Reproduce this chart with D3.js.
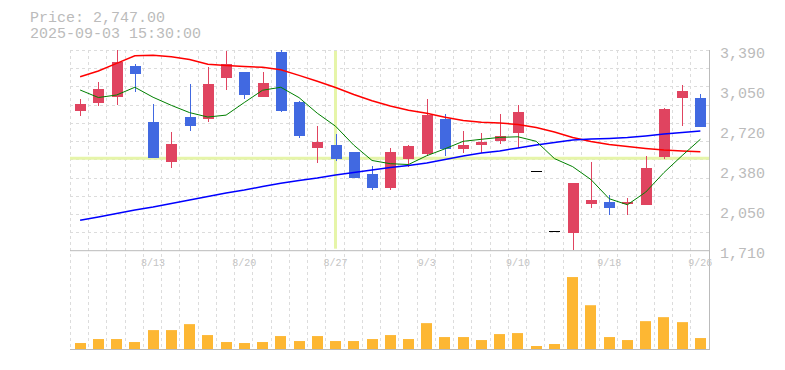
<!DOCTYPE html>
<html>
<head>
<meta charset="utf-8">
<script src="https://cdn.jsdelivr.net/npm/d3@7"></script>
<style>
  body { margin: 0; background: #fff; }
  svg { display: block; }
  text { font-family: "Liberation Mono", "DejaVu Sans Mono", monospace; }
</style>
</head>
<body>
<div id="chart"></div>
<script>
const dates = ["8/6","8/7","8/8","8/12","8/13","8/14","8/15","8/18","8/19","8/20","8/21","8/22","8/25","8/26","8/27","8/28","8/29","9/1","9/2","9/3","9/4","9/5","9/8","9/9","9/10","9/11","9/12","9/16","9/17","9/18","9/19","9/22","9/24","9/25","9/26"];
const open  = [2880,2947,2998,3256,2785,2452,2827,2813,3157,3205,2998,3373,2953,2569,2592,2533,2348,2233,2474,2519,2810,2561,2594,2628,2695,2369,1869,1855,2099,2113,2099,2090,2491,2989,2987];
const high  = [2978,3121,3390,3272,2936,2701,3104,3250,3382,3205,3205,3390,2962,2752,2684,2533,2416,2569,2592,2978,2852,2712,2693,2852,2928,2369,1869,2273,2449,2172,2149,2500,2903,3096,3020];
const low   = [2836,2922,2930,3040,2485,2401,2712,2788,3057,2981,2998,2872,2653,2443,2460,2317,2217,2217,2410,2502,2502,2527,2527,2603,2569,2369,1869,1710,2065,2006,2006,2090,2474,2754,2747];
const close = [2936,3062,3289,3191,2485,2600,2754,3104,3272,3015,3113,2880,2668,2617,2474,2317,2233,2533,2584,2844,2561,2592,2617,2668,2869,2369,1869,2273,2130,2065,2113,2399,2894,3046,2747];
const volume = [6000,10000,10000,7000,19000,19000,25000,14000,7000,6000,7000,13000,8000,13000,8000,8000,10000,14000,10000,26000,12000,12000,9000,15000,16000,3000,5000,72300,44000,12000,9000,28000,32000,27000,11000];

// moving averages
const ma5  = [3054,2991,3012,3077,2993,2925,2864,2827,2843,2949,3052,3077,2990,2859,2750,2591,2462,2435,2428,2502,2560,2623,2640,2656,2661,2623,2478,2410,2302,2141,2090,2196,2360,2503,2640];
const ma25 = [3166,3214,3278,3341,3345,3333,3310,3270,3260,3251,3245,3224,3177,3127,3075,3016,2964,2920,2884,2858,2825,2797,2783,2777,2764,2739,2701,2655,2621,2596,2579,2563,2550,2542,2536];
const ma75 = [1959,1987,2017,2046,2071,2101,2130,2159,2189,2214,2243,2271,2294,2315,2340,2361,2382,2403,2420,2441,2470,2500,2525,2542,2567,2592,2613,2634,2642,2647,2655,2668,2684,2697,2710];

const priceTicks = [3390, 3050, 2720, 2380, 2050, 1710];
const dateTicks = ["8/13","8/20","8/27","9/3","9/10","9/18","9/26"];
const header = ["Price: 2,747.00", "2025-09-03 15:30:00"];
const crossDate = "8/27";
const crossPrice = 2480;

const W = 785, H = 370;
const plotLeft = 71, plotRight = 709.5, plotTop = 50, priceBottom = 250.7, volBottom = 349.5;

const svg = d3.select("#chart").append("svg")
    .attr("width", W)
    .attr("height", H);

const x = d3.scaleBand().domain(dates).range([plotLeft, plotRight]).padding(0);
const step = x.step();
const cx = d => x(d) + step / 2;
const y = d3.scaleLinear().domain([1710, 3390]).range([priceBottom - 0.7, plotTop]);
const yv = d3.scaleLinear().domain([0, 98000]).range([volBottom - 0.5, volBottom - 98]);

// grid
const grid = svg.append("g")
    .attr("stroke", "#dcdcdc")
    .attr("stroke-dasharray", "3,3")
    .attr("stroke-width", 1);
d3.range(11).forEach(k => {
    const gy = Math.round(plotTop + k * step) + 0.5;
    grid.append("line").attr("x1", 70).attr("x2", plotRight).attr("y1", gy).attr("y2", gy);
});
dates.forEach(d => {
    const gx = Math.round(x(d)) - 0.5;
    grid.append("line").attr("x1", gx).attr("x2", gx).attr("y1", plotTop).attr("y2", volBottom);
});

// crosshair
const cross = svg.append("g").attr("stroke", "#e6f5a9").attr("stroke-width", 3);
cross.append("line")
    .attr("x1", cx(crossDate)).attr("x2", cx(crossDate))
    .attr("y1", plotTop + 1).attr("y2", priceBottom - 2);
cross.append("line")
    .attr("x1", 70).attr("x2", plotRight)
    .attr("y1", y(crossPrice)).attr("y2", y(crossPrice));

// frame lines
const frame = svg.append("g").attr("stroke", "#bbbbbb").attr("stroke-width", 1);
frame.append("line").attr("x1", 70).attr("x2", plotRight).attr("y1", priceBottom).attr("y2", priceBottom);
frame.append("line").attr("x1", 70).attr("x2", plotRight).attr("y1", volBottom).attr("y2", volBottom);
frame.append("line").attr("x1", plotRight).attr("x2", plotRight).attr("y1", plotTop).attr("y2", volBottom + 0.5);

// volume
svg.append("g").selectAll("rect")
    .data(dates)
    .join("rect")
    .attr("x", d => Math.round(cx(d) - 5.5))
    .attr("width", 11)
    .attr("y", (d, i) => yv(volume[i]))
    .attr("height", (d, i) => yv(0) - yv(volume[i]))
    .attr("fill", "#fdb733");

// candles
const red = "#e04460", blue = "#4169e1";
const color = i => close[i] > open[i] ? red : close[i] < open[i] ? blue : "#000";
const candles = svg.append("g").attr("shape-rendering", "crispEdges");
dates.forEach((d, i) => {
    const c = Math.round(cx(d));
    if (high[i] > low[i]) {
        candles.append("line")
            .attr("x1", c + 0.5).attr("x2", c + 0.5)
            .attr("y1", y(high[i])).attr("y2", y(low[i]))
            .attr("stroke", color(i)).attr("stroke-width", 1);
    }
    if (open[i] === close[i]) {
        candles.append("line")
            .attr("x1", c - 5).attr("x2", c + 6)
            .attr("y1", y(open[i])).attr("y2", y(open[i]))
            .attr("stroke", "#000").attr("stroke-width", 1);
    } else {
        const t = y(Math.max(open[i], close[i])), b = y(Math.min(open[i], close[i]));
        candles.append("rect")
            .attr("x", c - 5).attr("width", 11)
            .attr("y", t).attr("height", Math.max(1, b - t))
            .attr("fill", color(i));
    }
});

// moving averages
const line = arr => d3.line().x((d, i) => cx(dates[i])).y(d => y(d))(arr);
[[ma25, "#ff0000", 1.5], [ma75, "#0000ff", 1.5], [ma5, "#008000", 1]].forEach(([arr, col, w]) => {
    svg.append("path")
        .attr("d", line(arr))
        .attr("fill", "none")
        .attr("stroke", col)
        .attr("stroke-width", w);
});

// price labels
svg.append("g").selectAll("text")
    .data(priceTicks)
    .join("text")
    .attr("x", 720)
    .attr("y", d => y(d) + 8)
    .attr("font-size", 15)
    .attr("fill", "#bbbbbb")
    .text(d => d3.format(",")(d));

// date labels
svg.append("g").selectAll("text")
    .data(dateTicks)
    .join("text")
    .attr("x", d => cx(d))
    .attr("y", 266)
    .attr("text-anchor", "middle")
    .attr("font-size", 10)
    .attr("fill", "#c4c4c4")
    .text(d => d);

// header
svg.append("g").selectAll("text")
    .data(header)
    .join("text")
    .attr("x", 30)
    .attr("y", (d, i) => 22 + i * 15.5)
    .attr("font-size", 15)
    .attr("fill", "#bbbbbb")
    .text(d => d);
</script>
</body>
</html>
